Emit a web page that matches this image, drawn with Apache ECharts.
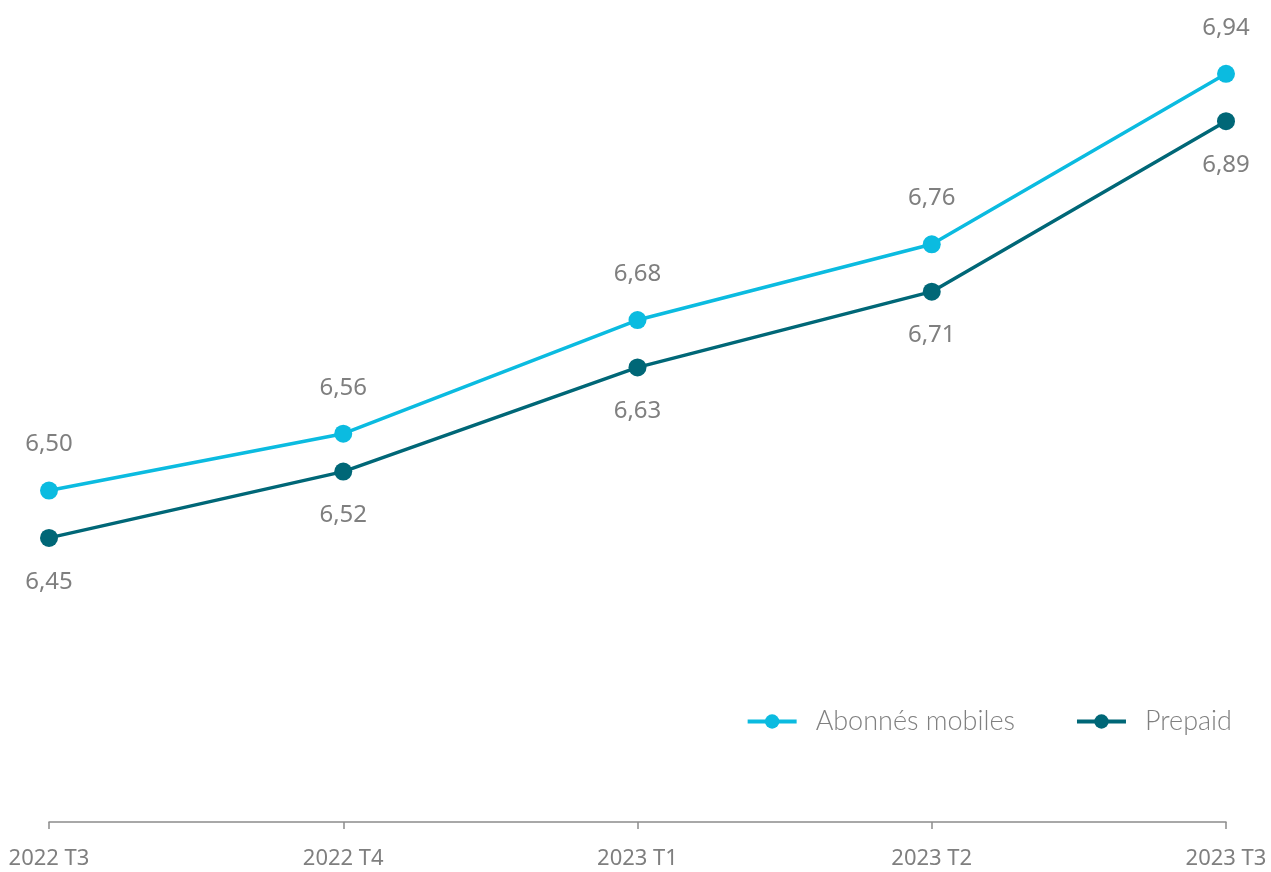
<!DOCTYPE html>
<html>
<head>
<meta charset="utf-8">
<script src="https://cdn.jsdelivr.net/npm/echarts@6/dist/echarts.min.js"></script>
<style>
  html, body { margin: 0; padding: 0; background: #fff; }
</style>
</head>
<body>
<div id="chart" style="width: 1271px; height: 872px"></div>
<script>
const categories = ['2022 T3', '2022 T4', '2023 T1', '2023 T2', '2023 T3'];
const abonnes = [6.5, 6.56, 6.68, 6.76, 6.94];
const prepaid = [6.45, 6.52, 6.63, 6.71, 6.89];

const fmt = (p) => p.value.toFixed(2).replace('.', ',');

let option = {
  backgroundColor: '#fff',
  grid: { left: 49, right: 45, top: 17, bottom: 50 },
  legend: {
    right: 34,
    top: 703,
    itemWidth: 49,
    itemHeight: 18,
    itemGap: 60,
    lineStyle: { width: 4 },
    textStyle: {
      fontFamily: 'Lato',
      fontWeight: 300,
      fontSize: 27,
      color: '#808080',
      padding: [0, 0, 0, 14],
    },
    data: ['Abonnés mobiles', 'Prepaid'],
  },
  xAxis: {
    type: 'category',
    boundaryGap: false,
    data: categories,
    axisLine: { lineStyle: { color: '#8c8c8c', width: 1.5 } },
    axisTick: { show: true, length: 7, lineStyle: { color: '#8c8c8c', width: 1.5 } },
    axisLabel: {
      margin: 26,
      fontFamily: 'Noto Sans',
      fontSize: 22,
      color: '#7f7f7f',
      showMinLabel: true,
      showMaxLabel: true,
    },
  },
  yAxis: {
    type: 'value',
    min: 6.15,
    max: 7.0,
    show: false,
    splitLine: { show: false },
  },
  series: [
    {
      name: 'Abonnés mobiles',
      type: 'line',
      data: abonnes,
      symbol: 'circle',
      symbolSize: 18,
      itemStyle: { color: '#0bbbe0' },
      lineStyle: { width: 3.5, color: '#0bbbe0' },
      label: {
        show: true,
        position: 'top',
        distance: 25,
        formatter: fmt,
        fontFamily: 'Noto Sans',
        fontSize: 24,
        color: '#7f7f7f',
      },
    },
    {
      name: 'Prepaid',
      type: 'line',
      data: prepaid,
      symbol: 'circle',
      symbolSize: 18,
      itemStyle: { color: '#006777' },
      lineStyle: { width: 3.5, color: '#006777' },
      label: {
        show: true,
        position: 'bottom',
        distance: 23,
        formatter: fmt,
        fontFamily: 'Noto Sans',
        fontSize: 24,
        color: '#7f7f7f',
      },
    },
  ],
};

let myChart = echarts.init(document.getElementById('chart'));
myChart.setOption(option);
</script>
</body>
</html>
